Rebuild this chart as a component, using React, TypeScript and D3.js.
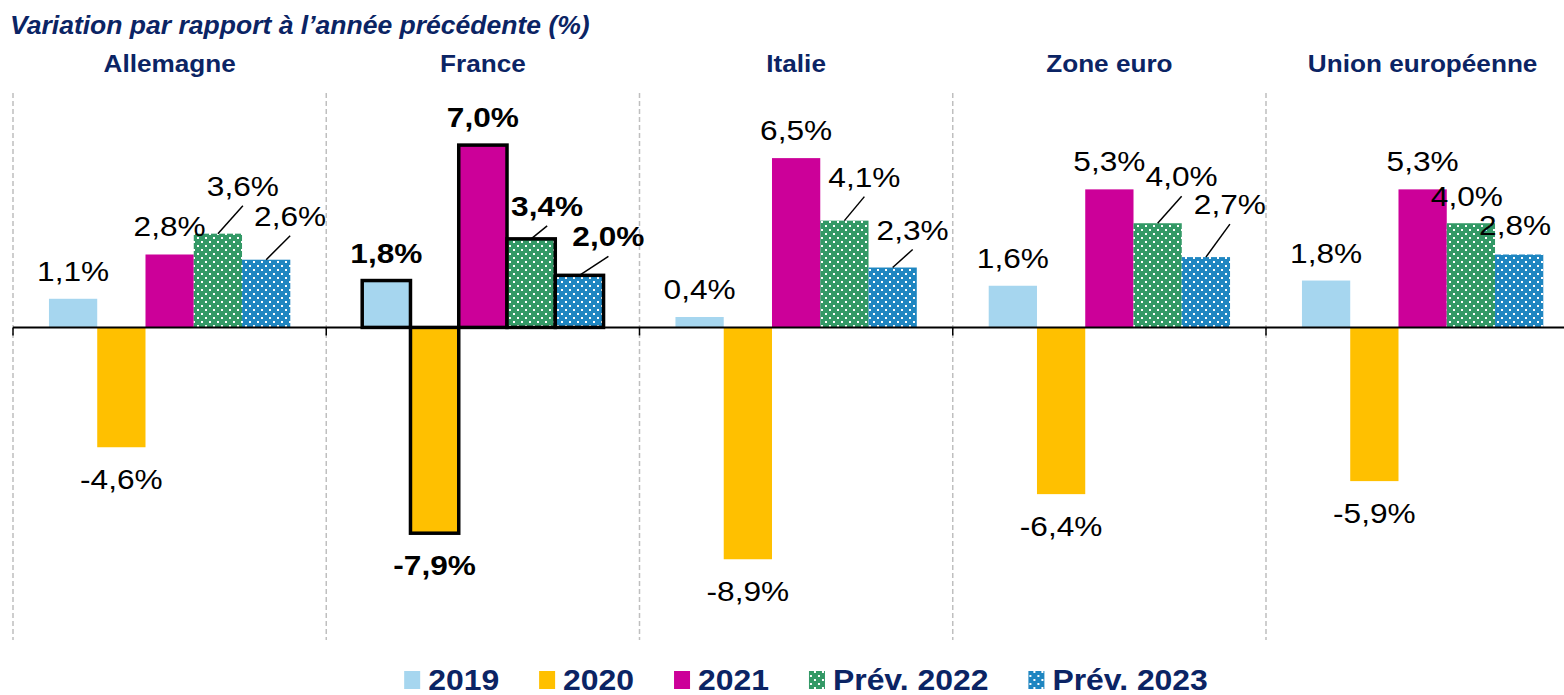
import React, { useEffect, useRef } from "react";
import * as d3 from "d3";

const countries = ["Allemagne", "France", "Italie", "Zone euro", "Union européenne"];
const seriesNames = ["2019", "2020", "2021", "Prév. 2022", "Prév. 2023"];
const v2019 = [1.1, 1.8, 0.4, 1.6, 1.8];
const v2020 = [-4.6, -7.9, -8.9, -6.4, -5.9];
const v2021 = [2.8, 7.0, 6.5, 5.3, 5.3];
const v2022 = [3.6, 3.4, 4.1, 4.0, 4.0];
const v2023 = [2.6, 2.0, 2.3, 2.7, 2.8];
const seriesValues = [v2019, v2020, v2021, v2022, v2023];
const highlighted = "France";
const titleText = "Variation par rapport à l’année précédente (%)";

// label layout for the forecast series (dx from bar centre, dy of baseline from bar top, leader line)
const forecastLabelLayout: Record<string, { dx: number; dy: number; leader: boolean }[]> = {
  Allemagne: [{ dx: 25, dy: -38, leader: true }, { dx: 24, dy: -34, leader: true }],
  France: [{ dx: 16, dy: -23, leader: true }, { dx: 29, dy: -29, leader: true }],
  Italie: [{ dx: 20, dy: -34, leader: true }, { dx: 20, dy: -28, leader: true }],
  "Zone euro": [{ dx: 24, dy: -37, leader: true }, { dx: 24, dy: -43, leader: true }],
  "Union européenne": [{ dx: -4, dy: -17, leader: false }, { dx: -4, dy: -19, leader: false }],
};

const colors = ["#A6D6EF", "#FFC000", "#CC0099", "#339966", "#1F86C1"];
const NAVY = "#0B2464";
const FONT = "'Liberation Sans', Arial, sans-serif";

const fmt = (v: number) => v.toFixed(1).replace(".", ",") + "%";

export default function App() {
  const ref = useRef<SVGSVGElement>(null);
  useEffect(() => {
    const svg = d3.select(ref.current);
    svg.selectAll("*").remove();
    const W = 1564;
    const top = 93, bottom = 640;
    const y = d3.scaleLinear().domain([-12, 9]).range([bottom, top]);
    const x0 = d3.scaleBand<string>().domain(countries).range([13, 13 + 5 * 313.25]).padding(0);
    const x1 = d3.scaleBand<string>().domain(seriesNames).range([0, x0.bandwidth()]).paddingInner(0).paddingOuter(0.745);

    const addText = (parent: any, x: number, yy: number, str: string, o: any) =>
      parent.append("text")
        .attr("transform", `translate(${x},${yy}) scale(${o.sx ?? 1},1)`)
        .attr("text-anchor", o.anchor ?? "start")
        .attr("font-family", FONT).attr("font-size", o.size)
        .attr("font-weight", o.bold ? "bold" : "normal")
        .attr("font-style", o.italic ? "italic" : "normal")
        .attr("fill", o.fill ?? "#000").text(str);

    const defs = svg.append("defs");
    [3, 4].forEach((i) => {
      const p = defs.append("pattern").attr("id", "dots" + i).attr("patternUnits", "userSpaceOnUse")
        .attr("width", 8).attr("height", 8);
      p.append("rect").attr("width", 8).attr("height", 8).attr("fill", colors[i]);
      p.append("rect").attr("x", 1).attr("y", 1).attr("width", 2).attr("height", 2).attr("fill", "#fff");
      p.append("rect").attr("x", 5).attr("y", 5).attr("width", 2).attr("height", 2).attr("fill", "#fff");
    });
    const fillFor = (i: number) => (i >= 3 ? `url(#dots${i})` : colors[i]);

    // title
    const tt = addText(svg, 10, 34, titleText, { size: 25, bold: true, italic: true, fill: NAVY });
    const tl = (tt.node() as SVGTextElement).getComputedTextLength();
    tt.attr("transform", `translate(10,34) scale(${580 / tl},1)`);

    // separators
    countries.forEach((c) => {
      const gx = x0(c)!;
      svg.append("line").attr("x1", gx).attr("x2", gx).attr("y1", top).attr("y2", bottom)
        .attr("stroke", "#BFBFBF").attr("stroke-width", 1.5).attr("stroke-dasharray", "5,3");
      addText(svg, gx + x0.bandwidth() / 2, 72, c, { size: 24, bold: true, fill: NAVY, anchor: "middle", sx: 1.09 });
    });

    // bars
    countries.forEach((c, ci) => {
      const gx = x0(c)!;
      const hl = c === highlighted;
      seriesNames.forEach((s, si) => {
        const v = seriesValues[si][ci];
        const bx = gx + x1(s)!;
        const bw = x1.bandwidth();
        const y0 = y(0), yv = y(v);
        svg.append("rect").attr("x", bx).attr("width", bw)
          .attr("y", Math.min(y0, yv)).attr("height", Math.abs(yv - y0))
          .attr("fill", fillFor(si))
          .attr("stroke", hl ? "#000" : "none").attr("stroke-width", hl ? 3.5 : 0);
      });
    });

    // axis
    svg.append("line").attr("x1", 13).attr("x2", W).attr("y1", y(0)).attr("y2", y(0))
      .attr("stroke", "#000").attr("stroke-width", 2);
    countries.forEach((c) => {
      const gx = x0(c)!;
      svg.append("line").attr("x1", gx).attr("x2", gx).attr("y1", y(0)).attr("y2", y(0) + 8)
        .attr("stroke", "#000").attr("stroke-width", 1.5);
    });

    // labels
    countries.forEach((c, ci) => {
      const gx = x0(c)!;
      const hl = c === highlighted;
      seriesNames.forEach((s, si) => {
        const v = seriesValues[si][ci];
        const cx = gx + x1(s)! + x1.bandwidth() / 2;
        let lx = cx, ly;
        if (v < 0) ly = y(v) + 42;
        else ly = y(v) - 18;
        if (si >= 3) {
          const L = forecastLabelLayout[c][si - 3];
          lx = cx + L.dx;
          ly = y(v) + L.dy;
          if (L.leader) {
            svg.append("line").attr("x1", cx).attr("y1", y(v)).attr("x2", cx + L.dx).attr("y2", ly + 10)
              .attr("stroke", "#000").attr("stroke-width", 1.5);
          }
        }
        addText(svg, lx, ly, fmt(v), { size: 28, bold: hl, anchor: "middle", sx: 1.13 });
      });
    });

    // legend
    const lg = svg.append("g");
    let cur = 0;
    const LSX = 1.1;
    seriesNames.forEach((s, si) => {
      const g = lg.append("g").attr("transform", `translate(${cur},0)`);
      g.append("rect").attr("x", 0).attr("y", -19).attr("width", 16).attr("height", 18).attr("fill", fillFor(si));
      const t = addText(g, 24, 0, s, { size: 29, bold: true, fill: NAVY, sx: LSX });
      const tw = (t.node() as SVGTextElement).getComputedTextLength() * LSX;
      cur += 24 + tw + 40;
    });
    const total = cur - 40;
    lg.attr("transform", `translate(${806 - total / 2},690)`);
  }, []);
  return (
    <div style={{ position: "absolute", left: 0, top: 0 }}>
      <svg ref={ref} width={1564} height={695} style={{ display: "block", background: "#fff" }} />
    </div>
  );
}
